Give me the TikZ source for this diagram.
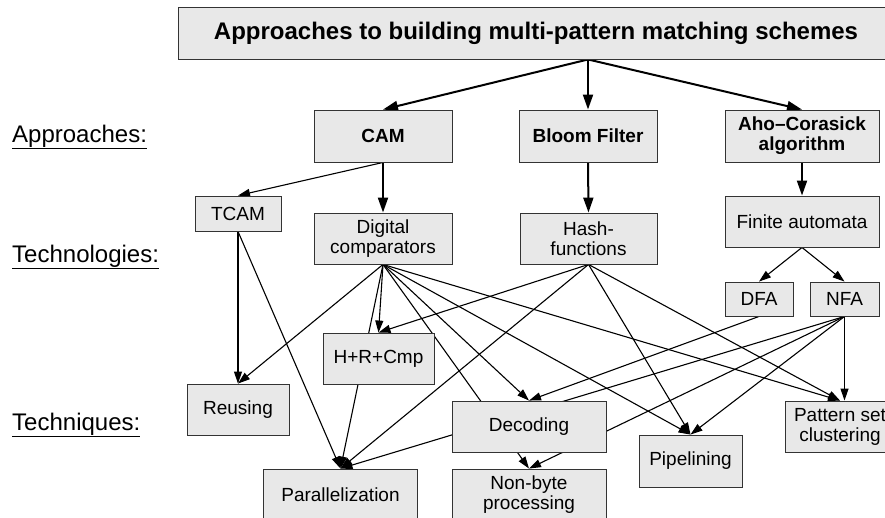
\documentclass[tikz,border=0pt]{standalone}
\usepackage{fontspec}
\setmainfont{Liberation Sans}
\usetikzlibrary{arrows.meta,backgrounds}

\begin{document}
\begin{tikzpicture}[x=1pt, y=-1pt,
  box/.style={draw=black!80, fill=black!9, line width=0.9pt, inner sep=0pt,
    align=center, font=\fontsize{19}{20}\selectfont},
  bigbox/.style={box, font=\fontsize{19}{20}\selectfont\bfseries},
  layer/.style={anchor=base west, inner sep=0pt, font=\fontsize{24}{24}\selectfont},
  link/.style={line width=1.1pt, -{Triangle[length=12pt,width=8pt]}},
  mainlink/.style={line width=2pt, -{Triangle[length=15pt,width=10pt]}}]
\useasboundingbox (0,0) rectangle (885,517);
\clip (0,0) rectangle (885,517);

% Level labels
\node[layer] (lapp) at (12,142) {\underline{Approaches:}};
\node[layer] (ltech) at (12,262) {\underline{Technologies:}};
\node[layer] (ltnq) at (12,430) {\underline{Techniques:}};

% Title
\node[box, minimum width=716, minimum height=52,
  font=\fontsize{24}{24}\selectfont\bfseries] (title) at (536,33)
  {Approaches to building multi-pattern matching schemes};

% Approaches
\node[bigbox, minimum width=138, minimum height=52] (cam) at (383,136) {CAM};
\node[bigbox, minimum width=138, minimum height=52] (bloom) at (588,136) {Bloom Filter};
\node[bigbox, minimum width=154, minimum height=52] (aho) at (802,136) {Aho--Corasick\\algorithm};

% Technologies
\node[box, minimum width=86, minimum height=35] (tcam) at (238,213.5) {TCAM};
\node[box, minimum width=138, minimum height=51] (digcmp) at (383,238.5) {Digital\\comparators};
\node[box, minimum width=137, minimum height=51] (hash) at (588.5,238.5) {Hash-\\functions};
\node[box, minimum width=154, minimum height=51] (fa) at (802,221.5) {Finite automata};
\node[box, minimum width=68, minimum height=34] (dfa) at (759,299) {DFA};
\node[box, minimum width=69, minimum height=34] (nfa) at (844.5,299) {NFA};

% Techniques
\node[box, minimum width=111, minimum height=51] (hrc) at (378.5,358.5) {H+R+Cmp};
\node[box, minimum width=102, minimum height=51] (reuse) at (238,409.5) {Reusing};
\node[box, minimum width=154, minimum height=51] (par) at (340.5,494.5) {Parallelization};
\node[box, minimum width=154, minimum height=51] (dec) at (529,426.5) {Decoding};
\node[box, minimum width=154, minimum height=51] (nonbyte) at (529,494.5) {Non-byte\\processing};
\node[box, minimum width=103, minimum height=52] (pipe) at (690.5,461) {Pipelining};
\node[box, minimum width=110, minimum height=51] (pset) at (840,426.5) {Pattern set\\clustering};

\begin{pgfonlayer}{background}
% Title to approaches
\draw[mainlink] (title.south -| bloom) -- (cam.north);
\draw[mainlink] (title.south -| bloom) -- (bloom.north);
\draw[mainlink] (title.south -| bloom) -- (aho.north);

% Approaches to technologies
\draw[link] (cam.south) -- (tcam.north);
\draw[mainlink] (cam.south) -- (digcmp.north);
\draw[mainlink] (bloom.south) -- (hash.north);
\draw[mainlink] (aho.south) -- (fa.north);
\draw[link] (fa.south) -- (dfa.north);
\draw[link] (fa.south) -- (nfa.north);

% Technologies to techniques
\draw[link] (tcam.south) -- (reuse.north);
\draw[link] (tcam.south) -- (par.north);
\foreach \t in {reuse, hrc, par, dec, nonbyte, pipe, pset}
  \draw[link] (digcmp.south) -- (\t.north);
\foreach \t in {hrc, par, pipe, pset}
  \draw[link] (hash.south) -- (\t.north);
\draw[link] (dfa.south) -- (dec.north);
\foreach \t in {par, nonbyte, pipe}
  \draw[link] (nfa.south) -- (\t.north);
\draw[link] (nfa.south) -- (nfa.south |- pset.north);
\end{pgfonlayer}
\end{tikzpicture}
\end{document}
